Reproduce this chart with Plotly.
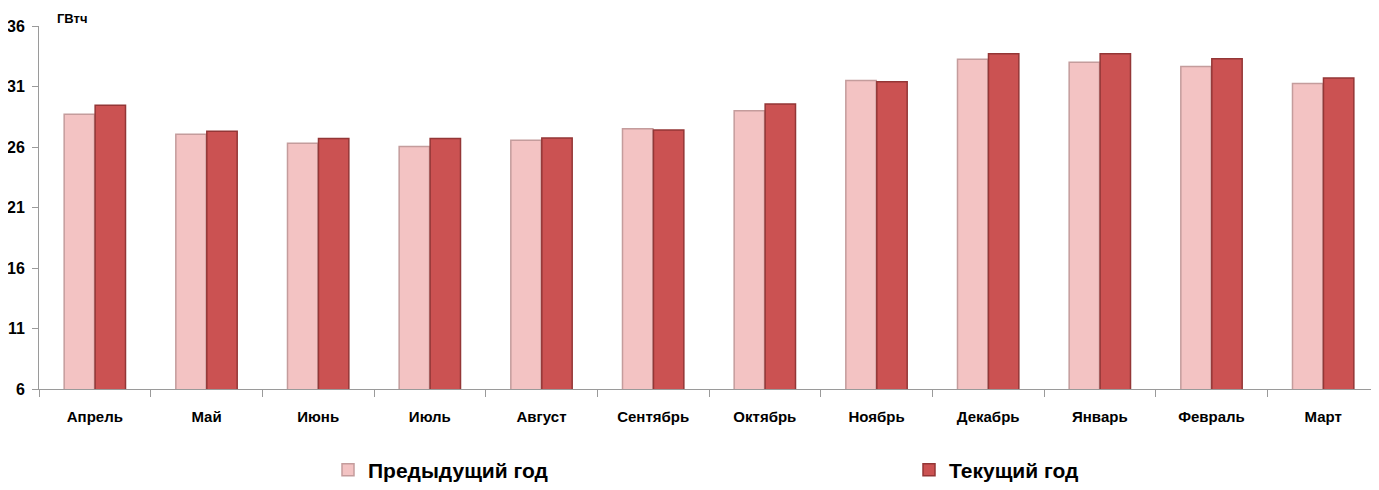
import plotly.graph_objects as go

months = ["Апрель", "Май", "Июнь", "Июль", "Август", "Сентябрь", "Октябрь",
          "Ноябрь", "Декабрь", "Январь", "Февраль", "Март"]
prev_year = [28.7, 27.05, 26.3, 26.05, 26.55, 27.5, 29.0, 31.5, 33.25, 33.0, 32.65, 31.25]
curr_year = [29.45, 27.3, 26.7, 26.7, 26.75, 27.4, 29.55, 31.4, 33.7, 33.7, 33.3, 31.7]
y_ticks = [6, 11, 16, 21, 26, 31, 36]

FONT = "Liberation Sans Narrow, Arial Narrow, Liberation Sans, Arial, sans-serif"
W, H = 1371, 482  # page body has an 8px margin

fig = go.Figure()
fig.add_trace(go.Bar(
    x=months, y=prev_year, name="Предыдущий год", legend="legend",
    marker=dict(color="#F3C3C3", line=dict(color="#C49C9C", width=1.5)),
))
fig.add_trace(go.Bar(
    x=months, y=curr_year, name="Текущий год", legend="legend2",
    marker=dict(color="#CB5252", line=dict(color="#943636", width=1.5)),
))

legend_common = dict(
    orientation="h", xref="container", yref="container", y=20 / H,
    xanchor="left", yanchor="middle",
    font=dict(family=FONT, size=21, color="black", weight="bold"),
    itemwidth=30, bgcolor="rgba(0,0,0,0)",
)

fig.update_layout(
    width=W, height=H,
    margin=dict(l=31, r=0, t=18, b=101, autoexpand=False),
    plot_bgcolor="white", paper_bgcolor="white",
    barmode="group", bargap=0.445, bargroupgap=0.02,
    font=dict(family=FONT, size=14, color="black"),
    showlegend=True,
    legend=dict(x=320 / W, **legend_common),
    legend2=dict(x=901 / W, **legend_common),
    xaxis=dict(
        showline=True, linecolor="#9A9A9A", linewidth=1,
        ticks="outside", tickson="boundaries", ticklen=7, tickcolor="#9A9A9A",
        tickfont=dict(family=FONT, size=15, weight="bold"),
        ticklabelstandoff=14, automargin=False,
        showgrid=False,
    ),
    yaxis=dict(
        range=[6, 36], tickvals=y_ticks,
        showline=True, linecolor="#9A9A9A", linewidth=1,
        ticks="outside", ticklen=6, tickcolor="#9A9A9A",
        tickfont=dict(family=FONT, size=16, weight="bold"),
        ticklabelstandoff=4,
        showgrid=False, zeroline=False, automargin=False,
    ),
    annotations=[dict(
        text="ГВтч", xref="paper", yref="paper", x=0.012, y=1.0, yshift=8,
        xanchor="left", yanchor="middle", showarrow=False,
        font=dict(family=FONT, size=13, weight="bold"),
    )],
)

fig.write_html("out.html")
